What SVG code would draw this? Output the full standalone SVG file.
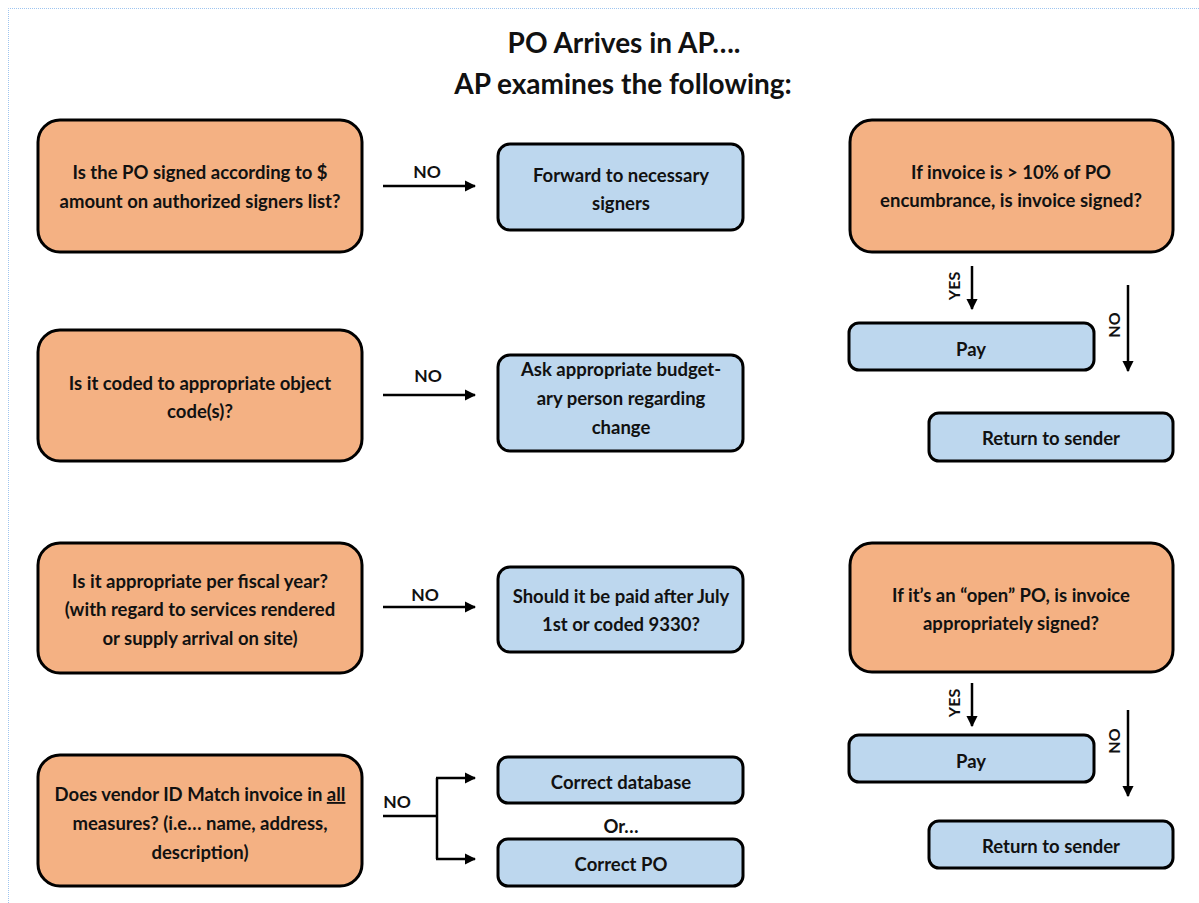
<svg xmlns="http://www.w3.org/2000/svg" width="1199" height="903" viewBox="0 0 1199 903">
<defs>
<style>
text{font-family:Lato,"Liberation Sans",sans-serif;font-weight:bold;fill:#111;text-anchor:middle;font-size:18.5px}
.title{font-size:28px}
.q{fill:#F4B183;stroke:#000;stroke-width:3}
.a{fill:#BDD7EE;stroke:#000;stroke-width:3}
.c{stroke:#000;stroke-width:2.5;fill:none}
.lbl{font-size:17.5px}
.rl{font-size:16px}
</style>
<marker id="ah" viewBox="0 0 10 10" refX="9" refY="5" markerWidth="4.5" markerHeight="4.5" orient="auto" markerUnits="strokeWidth">
<path d="M0,0 L10,5 L0,10 z" fill="#000"/>
</marker>
</defs>
<rect width="1199" height="903" fill="#fff"/>
<path d="M8.5,903 V8.5 H1199" fill="none" stroke="#9ec5f0" stroke-width="1" stroke-dasharray="1,1"/>
<g id="title">
<text class="title" x="624" y="53">PO Arrives in AP….</text>
<text class="title" x="623" y="94">AP examines the following:</text>
</g>
<g id="q1"><rect class="q" x="38" y="120" width="324" height="132" rx="22"/>
<text x="200" y="179">Is the PO signed according to $</text>
<text x="200" y="208">amount on authorized signers list?</text></g>
<g id="q2"><rect class="q" x="38" y="330" width="324" height="131" rx="22"/>
<text x="200" y="390">Is it coded to appropriate object</text>
<text x="200" y="418">code(s)?</text></g>
<g id="q3"><rect class="q" x="38" y="543" width="324" height="130" rx="22"/>
<text x="200" y="588">Is it appropriate per fiscal year?</text>
<text x="200" y="616">(with regard to services rendered</text>
<text x="200" y="645">or supply arrival on site)</text></g>
<g id="q4"><rect class="q" x="38" y="755" width="324" height="131" rx="22"/>
<text x="200" y="801">Does vendor ID Match invoice in <tspan text-decoration="underline">all</tspan></text>
<text x="200" y="830">measures? (i.e… name, address,</text>
<text x="200" y="859">description)</text></g>
<g id="a1"><rect class="a" x="498" y="144" width="245" height="86" rx="12"/>
<text x="621" y="182">Forward to necessary</text>
<text x="621" y="210">signers</text></g>
<g id="a2"><rect class="a" x="498" y="355" width="245" height="96" rx="12"/>
<text x="621" y="376">Ask appropriate budget-</text>
<text x="621" y="405">ary person regarding</text>
<text x="621" y="434">change</text></g>
<g id="a3"><rect class="a" x="498" y="567" width="245" height="85" rx="12"/>
<text x="621" y="603">Should it be paid after July</text>
<text x="621" y="631">1st or coded 9330?</text></g>
<g id="a4"><rect class="a" x="498" y="757" width="245" height="46" rx="10"/>
<text x="621" y="789">Correct database</text></g>
<g id="or"><text x="621" y="833">Or…</text></g>
<g id="a5"><rect class="a" x="498" y="839" width="245" height="47" rx="10"/>
<text x="621" y="871">Correct PO</text></g>
<g id="q5"><rect class="q" x="850" y="120" width="323" height="132" rx="22"/>
<text x="1011" y="179">If invoice is &gt; 10% of PO</text>
<text x="1011" y="207">encumbrance, is invoice signed?</text></g>
<g id="pay1"><rect class="a" x="849" y="323" width="245" height="47" rx="10"/>
<text x="971" y="356">Pay</text></g>
<g id="ret1"><rect class="a" x="929" y="413" width="244" height="48" rx="10"/>
<text x="1051" y="445">Return to sender</text></g>
<g id="q6"><rect class="q" x="850" y="543" width="323" height="129" rx="22"/>
<text x="1011" y="602">If it’s an “open” PO, is invoice</text>
<text x="1011" y="630">appropriately signed?</text></g>
<g id="pay2"><rect class="a" x="849" y="735" width="245" height="47" rx="10"/>
<text x="971" y="768">Pay</text></g>
<g id="ret2"><rect class="a" x="929" y="821" width="244" height="47" rx="10"/>
<text x="1051" y="853">Return to sender</text></g>
<g id="connectors">
<path class="c" d="M383,186 H475" marker-end="url(#ah)"/>
<path class="c" d="M383,395 H475" marker-end="url(#ah)"/>
<path class="c" d="M383,607 H475" marker-end="url(#ah)"/>
<path class="c" d="M383,816 H437"/>
<path class="c" d="M437,778 V859"/>
<path class="c" d="M436,778 H475" marker-end="url(#ah)"/>
<path class="c" d="M436,859 H475" marker-end="url(#ah)"/>
<path class="c" d="M972,266 V309" marker-end="url(#ah)"/>
<path class="c" d="M1128,285 V371" marker-end="url(#ah)"/>
<path class="c" d="M972,683 V726" marker-end="url(#ah)"/>
<path class="c" d="M1128,710 V796" marker-end="url(#ah)"/>
<text class="lbl" x="427" y="178">NO</text>
<text class="lbl" x="428" y="382">NO</text>
<text class="lbl" x="425" y="601">NO</text>
<text class="lbl" x="397" y="808">NO</text>
<text class="rl" transform="translate(960,286) rotate(-90)">YES</text>
<text class="rl" transform="translate(1120,325) rotate(-90)">NO</text>
<text class="rl" transform="translate(960,703) rotate(-90)">YES</text>
<text class="rl" transform="translate(1120,741) rotate(-90)">NO</text>
</g>
</svg>
